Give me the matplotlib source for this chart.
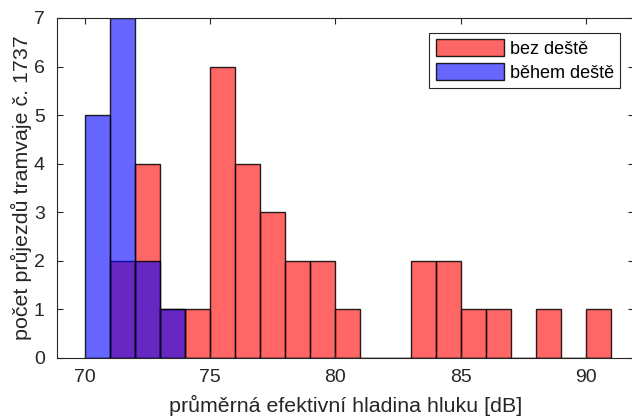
import numpy as np
import matplotlib
matplotlib.use('Agg')
from matplotlib import pyplot as plt

# hranice tříd (dB) a četnosti
bins = np.arange(70, 92)
bez_deste = [0, 2, 4, 1, 1, 6, 4, 3, 2, 2, 1, 0, 0, 2, 2, 1, 1, 0, 1, 0, 1]
behem_deste = [5, 7, 2, 1, 0, 0, 0, 0, 0, 0, 0, 0, 0, 0, 0, 0, 0, 0, 0, 0, 0]

plt.rcParams['font.family'] = ['Liberation Sans', 'DejaVu Sans']
W, H = 632, 420

fig = plt.figure(figsize=(W / 100, H / 100), dpi=100)
# osy přesahují pravý okraj obrázku (jako v originálu)
ax = fig.add_axes([57.3 / W, (H - 358) / H, (633.5 - 57.3) / W, 340 / H])

centers = bins[:-1] + 0.5
ax.hist(centers, bins=bins, weights=bez_deste, color=(1, 0, 0, 0.6),
        edgecolor=(0, 0, 0, 0.85), linewidth=1.0, label='bez deště')
ax.hist(centers, bins=bins, weights=behem_deste, color=(0, 0, 1, 0.6),
        edgecolor=(0, 0, 0, 0.85), linewidth=1.0, label='během deště')

ax.set_xlim(68.9, 91.9)
ax.set_ylim(0, 7)
ax.set_xticks([70, 75, 80, 85, 90])
ax.set_yticks(range(8))
ax.tick_params(direction='in', top=True, right=True, labelsize=14,
               length=4, width=0.8, color='#262626', labelcolor='#262626')
ax.tick_params(axis='x', pad=8)
ax.tick_params(axis='y', pad=9)
for s in ax.spines.values():
    s.set_color('#262626')
    s.set_linewidth(0.8)

ax.set_xlabel('průměrná efektivní hladina hluku [dB]', fontsize=15.4,
              color='#262626', labelpad=6)
ax.set_ylabel('počet průjezdů tramvaje č. 1737', fontsize=15.4,
              color='#262626', labelpad=1)

leg = ax.legend(loc='upper right', bbox_to_anchor=(620 / W, (H - 33) / H),
                bbox_transform=fig.transFigure, fontsize=13,
                handlelength=3.8, handleheight=1.05, handletextpad=0.3,
                borderpad=0.35, labelspacing=0.3, fancybox=False, framealpha=1,
                edgecolor='#262626', borderaxespad=0)
leg.get_frame().set_linewidth(0.8)

plt.savefig('out.png', dpi=100)
